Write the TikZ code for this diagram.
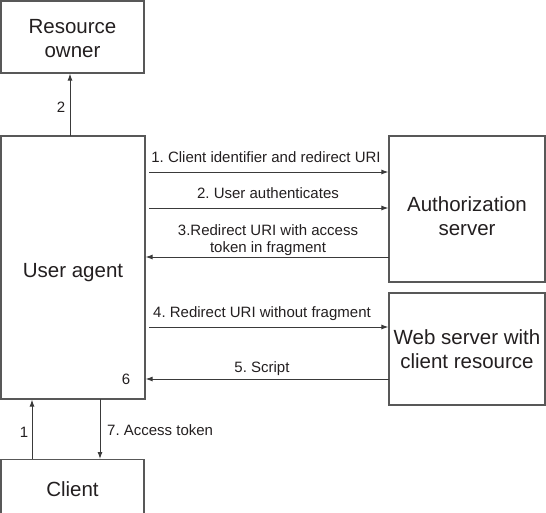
\documentclass[tikz,border=0pt]{standalone}
\usepackage{fontspec}
\setmainfont{Liberation Sans}
\usetikzlibrary{arrows.meta}
\definecolor{txt}{HTML}{231F20}
\definecolor{edge}{HTML}{3A3A3A}
\begin{document}
\frenchspacing
\begin{tikzpicture}[x=1pt,y=-1pt,
  box/.style={draw=edge!85,line width=1.2pt,fill=white,text=txt,font=\fontsize{20.5}{24}\selectfont,align=center},
  boxtxt/.style={text=txt,font=\fontsize{20.5}{24}\selectfont,align=center},
  lbl/.style={text=txt,font=\fontsize{15}{17.5}\selectfont,align=center,inner sep=0pt},
  conn/.style={draw=edge,line width=1pt,-{Latex[length=7pt,width=5pt]}}]
\useasboundingbox (0,0) rectangle (546,512);
\node[box,minimum width=143pt,minimum height=72pt,label={[boxtxt,yshift=-2pt]center:Resource\\owner}] (ro) at (72.5,37) {};
\node[box,minimum width=144pt,minimum height=263pt,label={[boxtxt,yshift=-5pt]center:User agent}] (ua) at (73,267.5) {};
\node[box,minimum width=143pt,minimum height=60pt,anchor=north] (cl) at (72.5,459) {Client};
\node[box,minimum width=156pt,minimum height=146pt,label={[boxtxt,yshift=-7pt]center:Authorization\\server}] (as) at (467,209) {};
\node[box,minimum width=156pt,minimum height=112pt] (ws) at (467,349) {Web server with\\client resource};
% vertical
\coordinate (a2s) at (70,136);
\draw[conn] (a2s) -- (a2s |- ro.south);
\node[lbl] (l2) at (61,107) {2};
\coordinate (a1s) at (32,459);
\draw[conn] (a1s) -- (a1s |- ua.south);
\node[lbl] (l1) at (24,432) {1};
\coordinate (a7s) at (100,399);
\draw[conn] (a7s) -- (a7s |- cl.north);
\node[lbl,anchor=west] (l7) at (107,430) {7. Access token};
\node[lbl] (l6) at (126,379) {6};
% horizontal
\coordinate (h1) at (149,172);
\draw[conn] (h1) -- (h1 -| as.west);
\node[lbl] (t1) at (266,157) {1. Client identifier and redirect URI};
\coordinate (h2) at (149,208);
\draw[conn] (h2) -- (h2 -| as.west);
\node[lbl] (t2) at (268,193) {2. User authenticates};
\coordinate (h3) at (389,257);
\draw[conn] (h3) -- (h3 -| ua.east);
\node[lbl] (t3) at (268,240) {3.Redirect URI with access\\token in fragment};
\coordinate (h4) at (149,327);
\draw[conn] (h4) -- (h4 -| ws.west);
\node[lbl] (t4) at (262,314) {4. Redirect URI without fragment};
\coordinate (h5) at (389,379);
\draw[conn] (h5) -- (h5 -| ua.east);
\node[lbl] (t5) at (262,369) {5. Script};
\end{tikzpicture}
\end{document}
